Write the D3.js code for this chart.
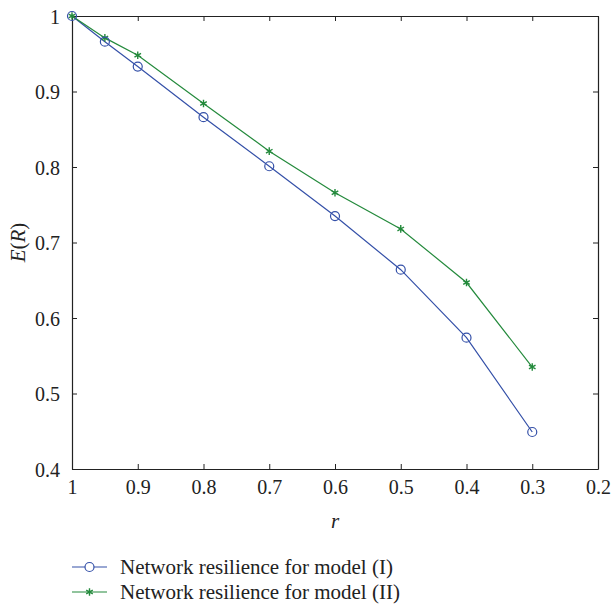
<!DOCTYPE html>
<html>
<head>
<meta charset="utf-8">
<script src="https://cdn.jsdelivr.net/npm/d3@7"></script>
<style>
  body { margin: 0; background: #fff; }
  svg text { font-family: "Liberation Serif", "Times New Roman", serif !important; fill: #222; }
</style>
</head>
<body>
<svg id="chart" width="612" height="605"></svg>
<script>
const rValues = [1, 0.95, 0.9, 0.8, 0.7, 0.6, 0.5, 0.4, 0.3];
const modelI = [1, 0.966, 0.933, 0.866, 0.801, 0.735, 0.664, 0.574, 0.449];
const modelII = [1, 0.971, 0.948, 0.884, 0.821, 0.766, 0.718, 0.647, 0.535];
const xTicks = [1, 0.9, 0.8, 0.7, 0.6, 0.5, 0.4, 0.3, 0.2];
const yTicks = [0.4, 0.5, 0.6, 0.7, 0.8, 0.9, 1];
const seriesNames = ["Network resilience for model (I)", "Network resilience for model (II)"];

const margin = { left: 72, top: 16, right: 14, bottom: 136 };
const width = 612, height = 605;
const svg = d3.select("#chart");

const x = d3.scaleLinear().domain([1, 0.2]).range([margin.left, width - margin.right]);
const y = d3.scaleLinear().domain([0.4, 1]).range([height - margin.bottom, margin.top]);

const blue = "#3450a8", green = "#248a3c";
const fmt = d => d === 1 ? "1" : d3.format(".1f")(d);

// Axes, ticks inward
const axisColor = "#222";
const axBottom = svg.append("g").attr("transform", `translate(0,${y(0.4)})`)
    .call(d3.axisBottom(x).tickValues(xTicks).tickFormat(fmt).tickSizeInner(-5).tickSizeOuter(0).tickPadding(8));
const axTop = svg.append("g").attr("transform", `translate(0,${y(1)})`)
    .call(d3.axisTop(x).tickValues(xTicks).tickFormat("").tickSizeInner(-5).tickSizeOuter(0));
const axLeft = svg.append("g").attr("transform", `translate(${x(1)},0)`)
    .call(d3.axisLeft(y).tickValues(yTicks).tickFormat(fmt).tickSizeInner(-5).tickSizeOuter(0).tickPadding(12));
const axRight = svg.append("g").attr("transform", `translate(${x(0.2)},0)`)
    .call(d3.axisRight(y).tickValues(yTicks).tickFormat("").tickSizeInner(-5).tickSizeOuter(0));

[axBottom, axTop, axLeft, axRight].forEach(g => {
    g.attr("font-family", null);
    g.select(".domain").attr("stroke", axisColor).attr("stroke-width", 1.2);
    g.selectAll(".tick line").attr("stroke", axisColor).attr("stroke-width", 1);
    g.selectAll("text").style("font-size", "20px").attr("fill", "#222");
});
axBottom.selectAll("text").attr("dy", "0.85em");
axLeft.selectAll("text").attr("dy", "0.35em");

// Axis labels
svg.append("text")
    .attr("x", (x(1) + x(0.2)) / 2).attr("y", 528)
    .attr("text-anchor", "middle").style("font-size", "21px").style("font-style", "italic")
    .text("r");

const yl = svg.append("text")
    .attr("transform", `translate(25,${(y(0.4) + y(1)) / 2}) rotate(-90)`)
    .attr("text-anchor", "middle").style("font-size", "21px");
yl.append("tspan").style("font-style", "italic").text("E");
yl.append("tspan").text("(");
yl.append("tspan").style("font-style", "italic").text("R");
yl.append("tspan").text(")");

// Lines
const line = d3.line().x((d, i) => x(rValues[i])).y(d => y(d));

svg.append("path").datum(modelI).attr("d", line)
    .attr("fill", "none").attr("stroke", blue).attr("stroke-width", 1.2);
svg.append("path").datum(modelII).attr("d", line)
    .attr("fill", "none").attr("stroke", green).attr("stroke-width", 1.2);

const star = d3.symbol().type(d3.symbolAsterisk).size(40);

svg.append("g").selectAll("path").data(modelII).join("path")
    .attr("transform", (d, i) => `translate(${x(rValues[i])},${y(d)})`)
    .attr("d", star).attr("fill", "none").attr("stroke", green).attr("stroke-width", 1.4);

svg.append("g").selectAll("circle").data(modelI).join("circle")
    .attr("cx", (d, i) => x(rValues[i])).attr("cy", d => y(d)).attr("r", 4.5)
    .attr("fill", "none").attr("stroke", blue).attr("stroke-width", 1.2);

// Legend
const legend = svg.append("g");
const colors = [blue, green];
seriesNames.forEach((name, i) => {
    const ly = 567 + i * 25;
    const g = legend.append("g");
    g.append("line").attr("x1", 72).attr("x2", 107).attr("y1", ly).attr("y2", ly)
        .attr("stroke", colors[i]).attr("stroke-width", 1.2);
    if (i === 0) {
        g.append("circle").attr("cx", 89.5).attr("cy", ly).attr("r", 4.5)
            .attr("fill", "#fff").attr("stroke", blue).attr("stroke-width", 1.2);
    } else {
        g.append("path").attr("transform", `translate(89.5,${ly})`).attr("d", star)
            .attr("fill", "none").attr("stroke", green).attr("stroke-width", 1.4);
    }
    g.append("text").attr("x", 120).attr("y", ly).attr("dy", "0.35em")
        .style("font-size", "21px").text(name);
});
</script>
</body>
</html>
